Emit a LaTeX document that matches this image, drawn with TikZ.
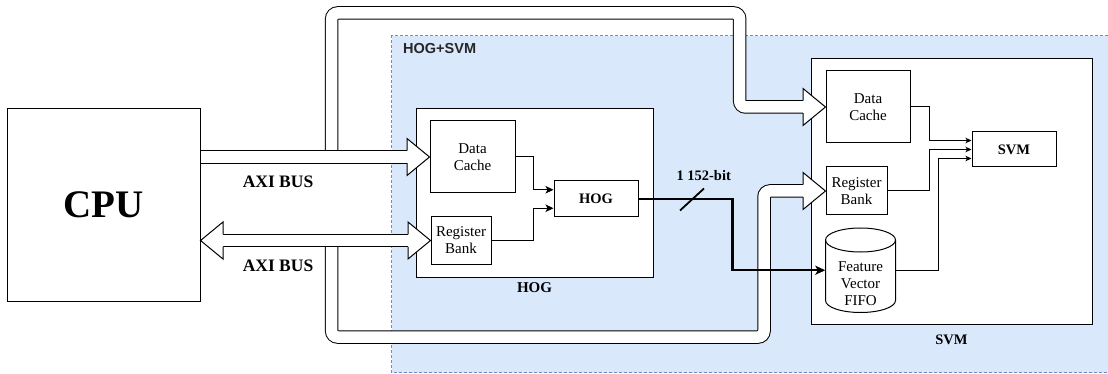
\documentclass[tikz,border=0pt]{standalone}
\usepackage{fontspec}
\setmainfont{Liberation Serif}
\newfontfamily\labelsans{Liberation Sans}
\usetikzlibrary{arrows.meta,calc}

\definecolor{regionfill}{HTML}{DAE8FC}
\definecolor{regionedge}{HTML}{6C8EBF}

\tikzset{
  unit/.style={draw=black, line width=1pt, fill=white, inner sep=0pt, align=center,
               font=\fontsize{15}{17}\selectfont},
  boldunit/.style={unit, font=\fontsize{14.5}{17}\selectfont\bfseries},
  title/.style={inner sep=0pt, align=center, font=\fontsize{15}{17}\selectfont\bfseries},
  link/.style={draw=black, line width=1pt, -{Stealth[length=8pt,width=7.5pt,inset=2pt]}},
  smalllink/.style={draw=black, line width=1pt, -{Stealth[length=6pt,width=5.5pt,inset=1.5pt]}},
  bus/.style={draw=white, line width=11.5pt, rounded corners=6pt,
              preaction={draw=black, line width=13.5pt}},
  pics/busheadR/.style={code={
    \filldraw[fill=white, draw=black, line width=1pt, line join=miter]
      (-22.5,6.25) -- (-22.5,18.5) -- (0,0) -- (-22.5,-18.5) -- (-22.5,-6.25);}},
  pics/busheadL/.style={code={
    \filldraw[fill=white, draw=black, line width=1pt, line join=miter]
      (22.5,6.25) -- (22.5,18.5) -- (0,0) -- (22.5,-18.5) -- (22.5,-6.25);}},
}

\begin{document}
\begin{tikzpicture}[x=1pt, y=-1pt]
\useasboundingbox (0,0) rectangle (1108,374);

% accelerator region
\fill[regionfill] (391.7,36) rectangle (1108,372.7);
\draw[regionedge, line width=1pt, dash pattern=on 3pt off 2pt]
  (1108,36) -- (391.7,36) -- (391.7,372.7) -- (1108,372.7);
\node[anchor=west, inner sep=0pt, text=black!85,
      font=\labelsans\bfseries\fontsize{14.5}{16}\selectfont] (regionlbl) at (403,49) {HOG+SVM};

% CPU
\node[draw=black, line width=1pt, minimum width=193, minimum height=192, inner sep=0pt,
      font=\fontsize{39}{40}\selectfont\bfseries] (cpu) at (103.5,205) {CPU};

% HOG block
\node[unit, minimum width=237, minimum height=168] (hogbox) at (534.5,193) {};
\node[title] (hoglbl) at (534.5,288) {HOG};
\node[unit, minimum width=85, minimum height=72] (hdc) at (472.5,157) {Data\\Cache};
\node[unit, minimum width=60, minimum height=47] (hrb) at (461,240.5) {Register\\Bank};
\node[boldunit, minimum width=84, minimum height=36] (hog) at (596,199) {HOG};

% SVM block
\node[unit, minimum width=281, minimum height=265] (svmbox) at (951.5,191.5) {};
\node[title, font=\fontsize{14.5}{17}\selectfont\bfseries] (svmlbl) at (951.5,339.5) {SVM};
\node[unit, minimum width=84, minimum height=72] (sdc) at (868,107) {Data\\Cache};
\node[unit, minimum width=61, minimum height=48] (srb) at (856.5,191) {Register\\Bank};
\node[boldunit, minimum width=84, minimum height=35] (svm) at (1014,149.5) {SVM};

% feature vector FIFO (cylinder)
\node[inner sep=0pt, minimum width=70, minimum height=84.5] (fifo) at (860.5,270.25) {};
\filldraw[fill=white, draw=black, line width=1pt]
  (825.5,240) -- (825.5,300.5) arc[start angle=180, end angle=0, x radius=35, y radius=12]
  -- (895.5,240) arc[start angle=0, end angle=-180, x radius=35, y radius=12] -- cycle;
\draw[line width=1pt] (825.5,240) arc[start angle=180, end angle=0, x radius=35, y radius=12];
\node[inner sep=0pt, align=center, font=\fontsize{15}{17}\selectfont] (fifotxt) at (860.5,284)
  {Feature\\Vector\\FIFO};

% internal links of the HOG block
\draw[link] (hdc.east) -- ++(18.3,0) |- ($(hog.north west)!0.25!(hog.south west)$);
\draw[link] (hrb.east) -- ++(42.3,0) |- ($(hog.north west)!0.75!(hog.south west)$);

% internal links of the SVM block
\draw[smalllink] (sdc.east) -- ++(19,0) |- ($(svm.north west)!0.25!(svm.south west)$);
\draw[smalllink] (srb.east) -- ++(42,0) |- (svm.west);
\draw[smalllink] (fifo.east) -- ++(43,0) |- ($(svm.north west)!0.75!(svm.south west)$);

% AXI branches towards the SVM block
\coordinate (tapA) at (331.7,157);
\coordinate (tapB) at (331.7,240.5);
\draw[bus] (tapA) -- (331.7,13) -- (739.7,13) |- ($(sdc.west)+(-21,0)$);
\draw[bus] (tapB) -- (331.7,337) -- (764,337) |- ($(srb.west)+(-21,0)$);
\pic at (sdc.west) {busheadR};
\pic at (srb.west) {busheadR};

% AXI buses from the CPU
\draw[bus] ($(cpu.east |- hdc.west)+(0.5,0)$) -- ($(hdc.west)+(-21,0)$);
\pic at (hdc.west) {busheadR};
\draw[bus] ($(cpu.east |- hrb.west)+(21,0)$) -- ($(hrb.west)+(-21,0)$);
\pic at (cpu.east |- hrb.west) {busheadL};
\pic at (hrb.west) {busheadR};
\node[title, font=\fontsize{17.5}{19}\selectfont\bfseries] (axitop) at (278,181.7) {AXI BUS};
\node[title, font=\fontsize{17.5}{19}\selectfont\bfseries] (axibot) at (278,266) {AXI BUS};

% feature vector path
\draw[line width=2.2pt, -{Stealth[length=10pt,width=9pt,inset=2.5pt]}]
  (hog.east) -- ++(94,0) |- (fifo.west);
\coordinate (slash) at (692,199.5);
\draw[line width=1.8pt] ($(slash)+(-12,11)$) -- ($(slash)+(12,-11)$);
\node[title, font=\fontsize{14.5}{17}\selectfont\bfseries] (buswidth) at (703.7,176) {1 152-bit};
\end{tikzpicture}
\end{document}
